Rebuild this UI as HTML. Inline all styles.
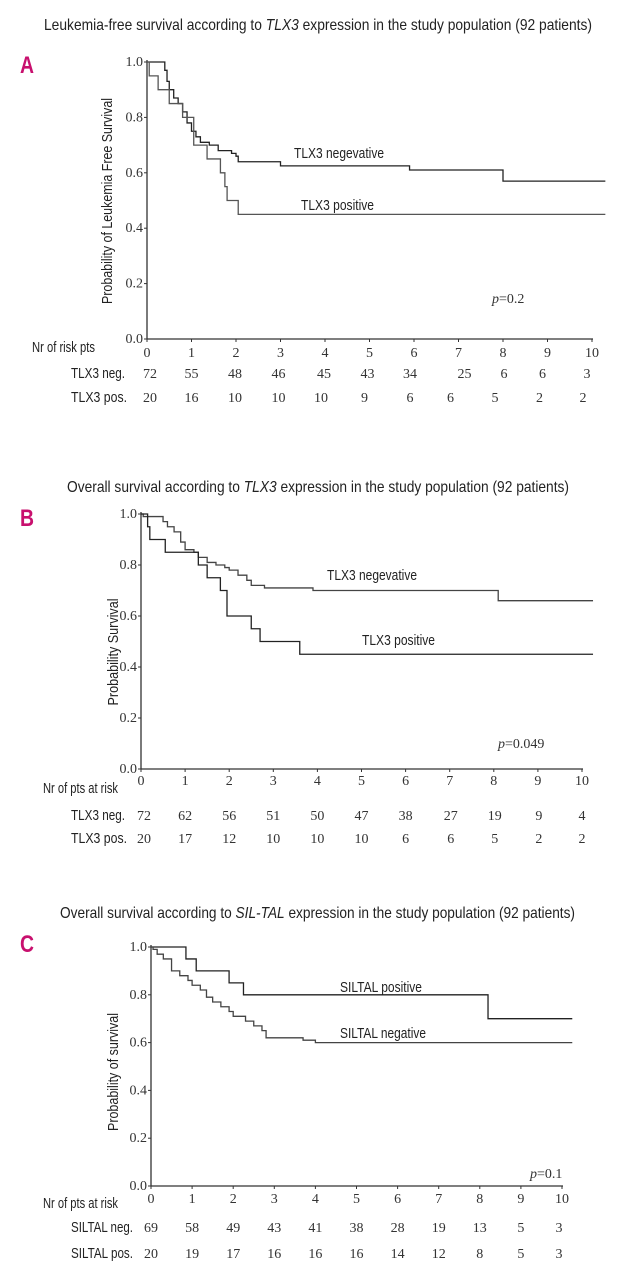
<!DOCTYPE html>
<html><head><meta charset="utf-8"><style>
html,body{margin:0;padding:0;background:#fff;}
svg{display:block;}
.ttl{font-family:"Liberation Sans Narrow","Liberation Sans",sans-serif;font-size:16px;fill:#222;}
.lbl{font-family:"Liberation Sans Narrow","Liberation Sans",sans-serif;font-size:15px;fill:#222;}
.num{font-family:"Liberation Serif",serif;font-size:14px;fill:#333;}
.pl{font-family:"Liberation Sans",sans-serif;font-size:24px;font-weight:bold;fill:#c8106e;}
</style></head><body>
<svg id="chart" width="619" height="1280" viewBox="0 0 619 1280" xmlns="http://www.w3.org/2000/svg"></svg>
<script>
// ---- data ----
const xTicks = [0,1,2,3,4,5,6,7,8,9,10];
const yTicks = [0.0,0.2,0.4,0.6,0.8,1.0];
// Panel A
const aNegT = [0,0.4,0.45,0.5,0.6,0.7,0.8,0.9,1.0,1.1,1.2,1.4,1.6,1.9,2.0,2.05,3.0,5.9,8.0];
const aNegS = [1,0.97,0.93,0.9,0.87,0.85,0.82,0.78,0.75,0.73,0.71,0.70,0.68,0.67,0.66,0.64,0.625,0.61,0.57];
const aPosT = [0,0.05,0.25,0.5,0.8,1.05,1.35,1.65,1.75,1.8,2.05];
const aPosS = [1,0.95,0.9,0.85,0.8,0.7,0.65,0.6,0.55,0.5,0.45];
const aRiskNeg = [72,55,48,46,45,43,34,25,6,6,3];
const aRiskPos = [20,16,10,10,10,9,6,6,5,2,2];
// Panel B
const bNegT = [0,0.05,0.5,0.6,0.75,0.9,1.0,1.2,1.3,1.5,1.7,1.9,2.0,2.2,2.4,2.5,2.8,3.9,8.1];
const bNegS = [1,0.99,0.97,0.95,0.93,0.89,0.86,0.85,0.83,0.81,0.80,0.79,0.78,0.76,0.74,0.72,0.71,0.70,0.66];
const bPosT = [0,0.15,0.2,0.55,1.3,1.5,1.8,1.95,2.5,2.7,3.6];
const bPosS = [1,0.95,0.9,0.85,0.8,0.75,0.7,0.6,0.55,0.5,0.45];
const bRiskNeg = [72,62,56,51,50,47,38,27,19,9,4];
const bRiskPos = [20,17,12,10,10,10,6,6,5,2,2];
// Panel C
const cPosT = [0,0.85,1.1,1.9,2.25,8.2];
const cPosS = [1,0.95,0.9,0.85,0.8,0.7];
const cNegT = [0,0.05,0.15,0.3,0.5,0.7,0.9,1.0,1.2,1.35,1.5,1.7,1.9,2.0,2.3,2.5,2.7,2.8,3.7,4.0];
const cNegS = [1,0.99,0.97,0.95,0.9,0.88,0.86,0.84,0.82,0.79,0.77,0.75,0.73,0.71,0.69,0.67,0.65,0.62,0.61,0.60];
const cRiskNeg = [69,58,49,43,41,38,28,19,13,5,3];
const cRiskPos = [20,19,17,16,16,16,14,12,8,5,3];

const NS='http://www.w3.org/2000/svg';
const svg=document.getElementById('chart');
function mk(tag,attrs,parent,text){const e=document.createElementNS(NS,tag);for(const k in attrs)e.setAttribute(k,attrs[k]);if(text!==undefined)e.textContent=text;(parent||svg).appendChild(e);return e;}

function panel(p){
  const g=mk('g',{});
  
  
  const X=t=>p.x0+(p.x1-p.x0)*t/10;
  const Y=v=>p.y0-(p.y0-p.y1)*v;
  let t=mk('text',{x:p.titleX,y:p.titleY,class:'ttl',textLength:p.titleW,lengthAdjust:'spacingAndGlyphs'},g);
  
  
  mk('tspan',{},t,p.title[0]);mk('tspan',{'font-style':'italic'},t,p.title[1]);mk('tspan',{},t,p.title[2]);
  t=mk('text',{x:20,y:p.letterY,class:'pl',textLength:14,lengthAdjust:'spacingAndGlyphs'},g,p.id.toUpperCase());
  
  
  let a=mk('path',{d:`M${p.x0} ${p.y1-2}V${p.y0}H${p.x1+1}`,stroke:'#333','stroke-width':1.3,fill:'none'},g);
  
  
  yTicks.forEach(v=>{
    mk('line',{x1:p.x0-3,x2:p.x0,y1:Y(v),y2:Y(v),stroke:'#333'},g);
    const l=mk('text',{x:p.x0-4,y:Y(v)+4,class:'num','text-anchor':'end','font-size':13},g,v.toFixed(1));
    
    
  });
  xTicks.forEach(v=>{
    mk('line',{x1:X(v),x2:X(v),y1:p.y0,y2:p.y0+3,stroke:'#333'},g);
    const l=mk('text',{x:X(v),y:p.tickY,class:'num','text-anchor':'middle','font-size':13},g,String(v));
    
    
  });
  const yl=mk('text',{x:0,y:0,class:'lbl','text-anchor':'middle',textLength:p.ylW,lengthAdjust:'spacingAndGlyphs',transform:`translate(${p.ylX},${p.ylY}) rotate(-90)`},g,p.ylabel);
  
  
  p.series.forEach(s=>{
    let d=`M${X(s.t[0])} ${Y(s.s[0])}`;
    for(let i=1;i<s.t.length;i++){d+=`H${X(s.t[i])}V${Y(s.s[i])}`;}
    d+=`H${X(p.end)}`;
    const pa=mk('path',{d:d,stroke:s.c,'stroke-width':1.3,fill:'none'},g);
    
    
    const lt=mk('text',{x:s.lx,y:s.ly,class:'lbl',textLength:s.lw,lengthAdjust:'spacingAndGlyphs'},g,s.label);
    
    
  });
  t=mk('text',{x:p.px,y:p.py,class:'num','font-size':13},g);
  
  
  mk('tspan',{'font-style':'italic'},t,'p');mk('tspan',{},t,p.pval);
  t=mk('text',{x:p.nrX,y:p.nrY,class:'lbl','font-size':13,textLength:p.nrW,lengthAdjust:'spacingAndGlyphs'},g,p.nrLabel);
  
  
  p.rows.forEach(r=>{
    const rl=mk('text',{x:71,y:r.y,class:'lbl',textLength:r.w,lengthAdjust:'spacingAndGlyphs'},g,r.label);
    
    
    r.vals.forEach((v,i)=>{
      const n=mk('text',{x:X(xTicks[i])+r.shift[i],y:r.y,class:'num','text-anchor':'middle'},g,String(v));
      
      
    });
  });
}
panel({id:'a',x0:147,x1:592,y0:339,y1:62,end:10.3,titleX:44,titleY:30,titleW:548,letterY:73,tickY:357,
  title:['Leukemia-free survival according to ','TLX3',' expression in the study population (92 patients)'],
  ylabel:'Probability of Leukemia Free Survival',ylX:112,ylY:201,ylW:206,
  series:[{t:aNegT,s:aNegS,c:'#222',name:'tlx3-negative-curve',label:'TLX3 negevative',lx:294,ly:158,lw:90},
          {t:aPosT,s:aPosS,c:'#555',name:'tlx3-positive-curve',label:'TLX3 positive',lx:301,ly:210,lw:73}],
  px:492,py:303,pval:'=0.2',nrX:32,nrY:352,nrW:63,nrLabel:'Nr of risk pts',
  rows:[{label:'TLX3 neg.',y:378,w:54,vals:aRiskNeg,shift:[3,0,-1,-2,-1,-2,-4,6,1,-5,-5]},
        {label:'TLX3 pos.',y:402,w:56,vals:aRiskPos,shift:[3,0,-1,-2,-4,-5,-4,-8,-8,-8,-9]}]});
panel({id:'b',x0:141,x1:582,y0:769,y1:514,end:10.25,titleX:67,titleY:492,titleW:502,letterY:526,tickY:785,
  title:['Overall survival according to ','TLX3',' expression in the study population (92 patients)'],
  ylabel:'Probability Survival',ylX:118,ylY:652,ylW:107,
  series:[{t:bNegT,s:bNegS,c:'#444',name:'tlx3-negative-curve',label:'TLX3 negevative',lx:327,ly:580,lw:90},
          {t:bPosT,s:bPosS,c:'#222',name:'tlx3-positive-curve',label:'TLX3 positive',lx:362,ly:645,lw:73}],
  px:498,py:748,pval:'=0.049',nrX:43,nrY:793,nrW:75,nrLabel:'Nr of pts at risk',
  rows:[{label:'TLX3 neg.',y:820,w:54,vals:bRiskNeg,shift:[3,0,0,0,0,0,0,1,1,1,0]},
        {label:'TLX3 pos.',y:843,w:56,vals:bRiskPos,shift:[3,0,0,0,0,0,0,1,1,1,0]}]});
panel({id:'c',x0:151,x1:562,y0:1186,y1:947,end:10.25,titleX:60,titleY:918,titleW:515,letterY:952,tickY:1203,
  title:['Overall survival according to ','SIL-TAL',' expression in the study population (92 patients)'],
  ylabel:'Probability of survival',ylX:118,ylY:1072,ylW:118,
  series:[{t:cPosT,s:cPosS,c:'#222',name:'siltal-positive-curve',label:'SILTAL positive',lx:340,ly:992,lw:82},
          {t:cNegT,s:cNegS,c:'#444',name:'siltal-negative-curve',label:'SILTAL negative',lx:340,ly:1038,lw:86}],
  px:530,py:1178,pval:'=0.1',nrX:43,nrY:1208,nrW:75,nrLabel:'Nr of pts at risk',
  rows:[{label:'SILTAL neg.',y:1232,w:62,vals:cRiskNeg,shift:[0,0,0,0,0,0,0,0,0,0,-3]},
        {label:'SILTAL pos.',y:1258,w:62,vals:cRiskPos,shift:[0,0,0,0,0,0,0,0,0,0,-3]}]});
</script>
</body></html>
